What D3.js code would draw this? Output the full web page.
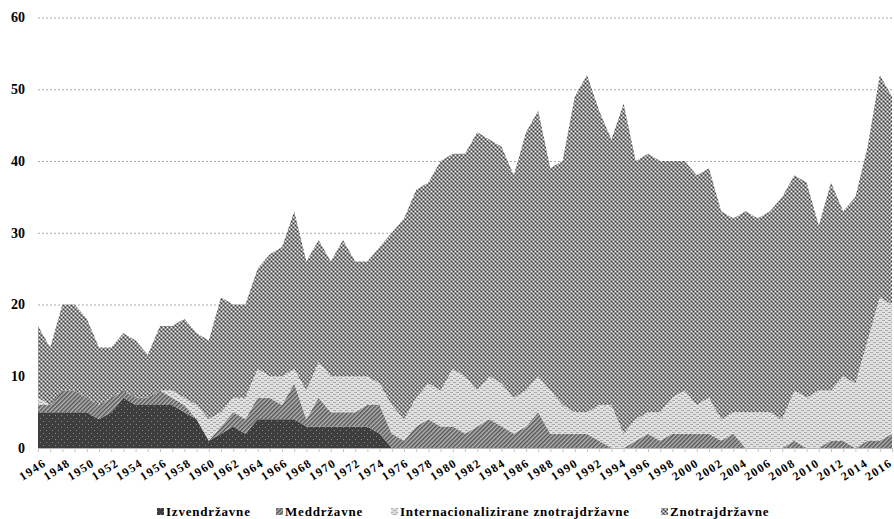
<!DOCTYPE html>
<html>
<head>
<meta charset="utf-8">
<script src="https://cdn.jsdelivr.net/npm/d3@7"></script>
<style>
  body { margin: 0; background: #fff; }
  text { font-family: "Liberation Serif", "Times New Roman", serif; font-weight: bold; fill: #000; }
</style>
</head>
<body>
<div id="container"></div>
<script>
/* CONSTANTS AND GLOBALS */
const width = 894,
  height = 519,
  margin = { top: 17.5, bottom: 71, left: 38, right: 2 };

/* DATA */
const years = [
  1946, 1947, 1948, 1949, 1950, 1951, 1952, 1953, 1954, 1955,
  1956, 1957, 1958, 1959, 1960, 1961, 1962, 1963, 1964, 1965,
  1966, 1967, 1968, 1969, 1970, 1971, 1972, 1973, 1974, 1975,
  1976, 1977, 1978, 1979, 1980, 1981, 1982, 1983, 1984, 1985,
  1986, 1987, 1988, 1989, 1990, 1991, 1992, 1993, 1994, 1995,
  1996, 1997, 1998, 1999, 2000, 2001, 2002, 2003, 2004, 2005,
  2006, 2007, 2008, 2009, 2010, 2011, 2012, 2013, 2014, 2015,
  2016
];

const izvendrzavne = [
  5, 5, 5, 5, 5, 4, 5, 7, 6, 6,
  6, 6, 5, 4, 1, 2, 3, 2, 4, 4,
  4, 4, 3, 3, 3, 3, 3, 3, 2, 0,
  0, 0, 0, 0, 0, 0, 0, 0, 0, 0,
  0, 0, 0, 0, 0, 0, 0, 0, 0, 0,
  0, 0, 0, 0, 0, 0, 0, 0, 0, 0,
  0, 0, 0, 0, 0, 0, 0, 0, 0, 0,
  0
];

const meddrzavne = [
  1, 1, 3, 3, 2, 2, 2, 1, 1, 1,
  2, 1, 1, 0, 0, 1, 2, 2, 3, 3,
  2, 5, 1, 4, 2, 2, 2, 3, 4, 2,
  1, 3, 4, 3, 3, 2, 3, 4, 3, 2,
  3, 5, 2, 2, 2, 2, 1, 0, 0, 1,
  2, 1, 2, 2, 2, 2, 1, 2, 0, 0,
  0, 0, 1, 0, 0, 1, 1, 0, 1, 1,
  2
];

const internacionalizirane = [
  1, 0, 0, 0, 0, 0, 0, 0, 0, 0,
  0, 1, 1, 2, 3, 2, 2, 3, 4, 3,
  4, 2, 4, 5, 5, 5, 5, 4, 3, 4,
  3, 4, 5, 5, 8, 8, 5, 6, 6, 5,
  5, 5, 6, 4, 3, 3, 5, 6, 2, 3,
  3, 4, 5, 6, 4, 5, 3, 3, 5, 5,
  5, 4, 7, 7, 8, 7, 9, 9, 14, 20,
  18
];

const znotrajdrzavne = [
  10, 8, 12, 12, 11, 8, 7, 8, 8, 6,
  9, 9, 11, 10, 11, 16, 13, 13, 14, 17,
  18, 22, 18, 17, 16, 19, 16, 16, 19, 24,
  28, 29, 28, 32, 30, 31, 36, 33, 33, 31,
  36, 37, 31, 34, 44, 47, 41, 37, 46, 36,
  36, 35, 33, 32, 32, 32, 29, 27, 28, 27,
  28, 31, 30, 30, 23, 29, 23, 26, 27, 31,
  29
];

const seriesNames = ["Izvendržavne", "Meddržavne", "Internacionalizirane znotrajdržavne", "Znotrajdržavne"];
const yTicks = [0, 10, 20, 30, 40, 50, 60];
const xLabels = years.filter(y => y % 2 === 0);

const table = years.map((year, i) => ({
  year,
  [seriesNames[0]]: izvendrzavne[i],
  [seriesNames[1]]: meddrzavne[i],
  [seriesNames[2]]: internacionalizirane[i],
  [seriesNames[3]]: znotrajdrzavne[i]
}));

// SCALES
const xScale = d3.scaleLinear()
  .domain(d3.extent(years))
  .range([margin.left, width - margin.right]);

// labels drift a little against the ticks in the original
const xLabelScale = d3.scaleLinear()
  .domain(d3.extent(years))
  .range([47, 893]);

const yScale = d3.scaleLinear()
  .domain([0, 60])
  .range([448, margin.top]);

// CREATE SVG ELEMENT
const svg = d3.select("#container")
  .append("svg")
  .attr("width", width)
  .attr("height", height);

// PATTERNS (greyscale fills like the printed original)
const defs = svg.append("defs");

const pExt = defs.append("pattern").attr("id", "p0")
  .attr("patternUnits", "userSpaceOnUse").attr("width", 6).attr("height", 6);
pExt.append("rect").attr("width", 6).attr("height", 6).attr("fill", "#3e3e3e");
pExt.append("rect").attr("x", 1).attr("y", 1).attr("width", 1).attr("height", 1).attr("fill", "#8a8a8a");
pExt.append("rect").attr("x", 4).attr("y", 4).attr("width", 1).attr("height", 1).attr("fill", "#8a8a8a");

const pInter = defs.append("pattern").attr("id", "p1")
  .attr("patternUnits", "userSpaceOnUse").attr("width", 3).attr("height", 3)
  .attr("patternTransform", "rotate(45)");
pInter.append("rect").attr("width", 3).attr("height", 3).attr("fill", "#b4b4b4");
pInter.append("rect").attr("width", 1.5).attr("height", 3).attr("fill", "#555555");

const pIntl = defs.append("pattern").attr("id", "p2")
  .attr("patternUnits", "userSpaceOnUse").attr("width", 6).attr("height", 4);
pIntl.append("rect").attr("width", 6).attr("height", 4).attr("fill", "#e0e0e0");
pIntl.append("rect").attr("x", 0).attr("y", 0).attr("width", 3).attr("height", 1).attr("fill", "#a9a9a9");
pIntl.append("rect").attr("x", 3).attr("y", 2).attr("width", 3).attr("height", 1).attr("fill", "#a9a9a9");

const pIntra = defs.append("pattern").attr("id", "p3")
  .attr("patternUnits", "userSpaceOnUse").attr("width", 4).attr("height", 4);
pIntra.append("rect").attr("width", 4).attr("height", 4).attr("fill", "#969696");
[[1, 1, "#f4f4f4"], [3, 3, "#f4f4f4"], [3, 1, "#3a3a3a"], [1, 3, "#3a3a3a"], [0, 2, "#6e6e6e"]]
  .forEach(([x, y, c]) => pIntra.append("rect").attr("x", x).attr("y", y)
    .attr("width", 1).attr("height", 1).attr("fill", c));

// GRIDLINES
svg.append("g")
  .selectAll("line")
  .data(yTicks.filter(d => d > 0))
  .join("line")
    .attr("x1", margin.left)
    .attr("x2", width)
    .attr("y1", d => yScale(d) + 0.5)
    .attr("y2", d => yScale(d) + 0.5)
    .attr("stroke", "#a8a8a8")
    .attr("stroke-dasharray", "2,2");

// STACK + AREA GENERATOR
const stack = d3.stack().keys(seriesNames);
const layers = stack(table);

const areaGen = d3.area()
  .x(d => xScale(d.data.year))
  .y0(d => yScale(d[0]))
  .y1(d => yScale(d[1]));

svg.append("g")
  .selectAll("path")
  .data(layers)
  .join("path")
    .attr("d", areaGen)
    .attr("fill", (d, i) => `url(#p${i})`);

// AXES
const xAxis = d3.axisBottom(xScale)
  .tickValues(years)
  .tickSize(4)
  .tickFormat("");

const gx = svg.append("g")
  .attr("class", "axis xAxis")
  .attr("transform", `translate(0,${yScale(0)})`)
  .call(xAxis);

gx.select(".domain").attr("stroke", "#b5b5b5");
gx.selectAll(".tick line").attr("stroke", "#c4c4c4");

// slanted year labels, every second year
svg.append("g")
  .attr("class", "xLabels")
  .selectAll("text")
  .data(xLabels)
  .join("text")
    .attr("text-anchor", "end")
    .attr("font-size", 12)
    .attr("letter-spacing", 1.3)
    .attr("transform", d => `translate(${xLabelScale(d)},465) rotate(-33)`)
    .text(d => d);

const yAxis = d3.axisLeft(yScale).tickValues(yTicks).tickSize(0).tickPadding(13);

const gy = svg.append("g")
  .attr("class", "axis yAxis")
  .attr("transform", `translate(${margin.left},0)`)
  .call(yAxis);

gy.select(".domain").remove();
gy.selectAll(".tick text").attr("font-size", 14);

// LEGEND
const legendItems = [
  { name: seriesNames[0], x: 157 },
  { name: seriesNames[1], x: 276 },
  { name: seriesNames[2], x: 391 },
  { name: seriesNames[3], x: 661 }
];

const legend = svg.append("g").attr("class", "legend");
legendItems.forEach((d, i) => {
  legend.append("rect")
    .attr("x", d.x)
    .attr("y", 508)
    .attr("width", 7)
    .attr("height", 7)
    .attr("fill", `url(#p${i})`);
  legend.append("text")
    .attr("x", d.x + 9)
    .attr("y", 516)
    .attr("font-size", 13)
    .attr("letter-spacing", 0.8)
    .text(d.name);
});
</script>
</body>
</html>
